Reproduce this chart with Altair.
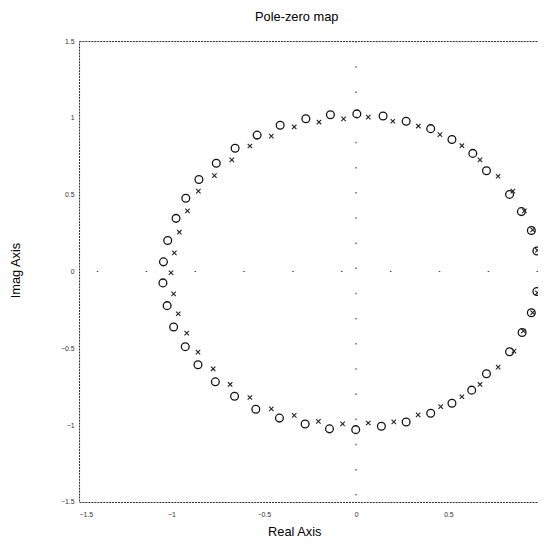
import altair as alt
import pandas as pd

# zeros (circles): real and imaginary parts
zero_x = [-1.046, -1.043, -1.020, -0.975, -0.922, -0.851, -0.757, -0.655, -0.536, -0.411, -0.272, -0.139,
          0.004, 0.146, 0.271, 0.404, 0.519, 0.632, 0.706, 0.831, 0.895, 0.949, 0.979,
          -1.023, -0.988, -0.925, -0.856, -0.762, -0.658, -0.543, -0.415, -0.276, -0.144,
          -0.002, 0.137, 0.271, 0.404, 0.519, 0.626, 0.706, 0.831, 0.899, 0.949, 0.979]
zero_y = [-0.074, 0.063, 0.202, 0.346, 0.477, 0.599, 0.705, 0.802, 0.888, 0.952, 0.994, 1.020,
          1.026, 1.012, 0.978, 0.930, 0.859, 0.769, 0.656, 0.502, 0.390, 0.267, 0.134,
          -0.222, -0.361, -0.489, -0.607, -0.718, -0.812, -0.896, -0.954, -0.992, -1.024,
          -1.029, -1.007, -0.979, -0.922, -0.857, -0.772, -0.665, -0.522, -0.397, -0.268, -0.130]

# poles (crosses)
pole_x = [-1.002, -0.984, -0.957, -0.913, -0.854, -0.767, -0.673, -0.575, -0.459, -0.335, -0.201,
          -0.068, 0.066, 0.199, 0.337, 0.454, 0.573, 0.671, 0.769, 0.849, 0.911, 0.956, 0.982,
          -0.988, -0.963, -0.917, -0.856, -0.774, -0.682, -0.575, -0.459, -0.335, -0.204,
          -0.073, 0.066, 0.204, 0.336, 0.458, 0.573, 0.671, 0.769, 0.855, 0.906, 0.956, 0.982]
pole_y = [-0.008, 0.121, 0.256, 0.395, 0.523, 0.624, 0.727, 0.817, 0.881, 0.941, 0.973,
          0.994, 1.005, 0.978, 0.947, 0.891, 0.819, 0.727, 0.620, 0.523, 0.395, 0.271, 0.138,
          -0.145, -0.275, -0.401, -0.525, -0.633, -0.735, -0.820, -0.894, -0.936, -0.975,
          -0.992, -0.986, -0.979, -0.933, -0.879, -0.815, -0.735, -0.622, -0.518, -0.387, -0.267, -0.138]

x_ticks = [-1.5, -1, -0.5, 0, 0.5]
y_ticks = [-1.5, -1, -0.5, 0, 0.5, 1, 1.5]
x_domain = [-1.5, 0.985]
y_domain = [-1.5, 1.5]
zero_line = [0]

FONT = "Liberation Sans"

zeros = pd.DataFrame({"re": zero_x, "im": zero_y})
poles = pd.DataFrame({"re": pole_x, "im": pole_y})

x_scale = alt.Scale(domain=x_domain, nice=False, zero=False)
y_scale = alt.Scale(domain=y_domain, nice=False, zero=False)

x_axis = alt.Axis(values=x_ticks, title="Real Axis", grid=False, ticks=False, domain=False,
                  labelFontSize=7, labelColor="#333", labelPadding=9, labelFont=FONT,
                  titleFont=FONT, titleFontSize=13, titleFontWeight="normal", titleColor="#000",
                  titleX=218, titleY=34, titleBaseline="alphabetic", titleAnchor="start",
                  titleAlign="center", format="~g")
y_axis = alt.Axis(values=y_ticks, title="Imag Axis", grid=False, ticks=False, domain=False,
                  labelFontSize=7, labelColor="#333", labelPadding=5, labelFont=FONT,
                  titleFont=FONT, titleFontSize=13, titleFontWeight="normal", titleColor="#000",
                  titleX=-64, titleY=232, titleBaseline="middle", titleAlign="center",
                  titleAngle=270, format="~g")

zero_mark = alt.Chart(zeros).mark_point(shape="circle", filled=False, size=62, strokeWidth=1.3,
                                        color="#111", opacity=1).encode(
    x=alt.X("re:Q", scale=x_scale, axis=x_axis),
    y=alt.Y("im:Q", scale=y_scale, axis=y_axis),
)

pole_mark = alt.Chart(poles).mark_point(shape="M-1,-1L1,1M1,-1L-1,1", filled=False, size=20,
                                        strokeWidth=1.1, color="#222", opacity=1).encode(
    x=alt.X("re:Q", scale=x_scale, axis=x_axis),
    y=alt.Y("im:Q", scale=y_scale, axis=y_axis),
)

vline = alt.Chart(pd.DataFrame({"re": zero_line})).mark_rule(
    color="#444", strokeDash=[1.5, 24], strokeWidth=1.2).encode(
    x=alt.X("re:Q", scale=x_scale, axis=x_axis))
hline = alt.Chart(pd.DataFrame({"im": zero_line})).mark_rule(
    color="#444", strokeDash=[1.5, 48], strokeWidth=1.2).encode(
    y=alt.Y("im:Q", scale=y_scale, axis=y_axis))

chart = alt.layer(vline, hline, zero_mark, pole_mark).properties(
    width=465,
    height=467,
    autosize=alt.AutoSizeParams(type="none"),
    padding={"left": 72, "top": 30, "right": 0, "bottom": 35},
    view=alt.ViewBackground(stroke="#222", strokeDash=[2, 1], strokeWidth=1, strokeOpacity=1),
    title=alt.TitleParams("Pole-zero map", font=FONT, fontSize=13, fontWeight="normal",
                          color="#000", anchor="middle", dx=-12, offset=13),
).configure_view(
    stroke="#222", strokeDash=[2, 1], strokeWidth=1, strokeOpacity=1
).configure(background="white")

chart.save("out.html", embed_options={"renderer": "svg", "actions": False})
